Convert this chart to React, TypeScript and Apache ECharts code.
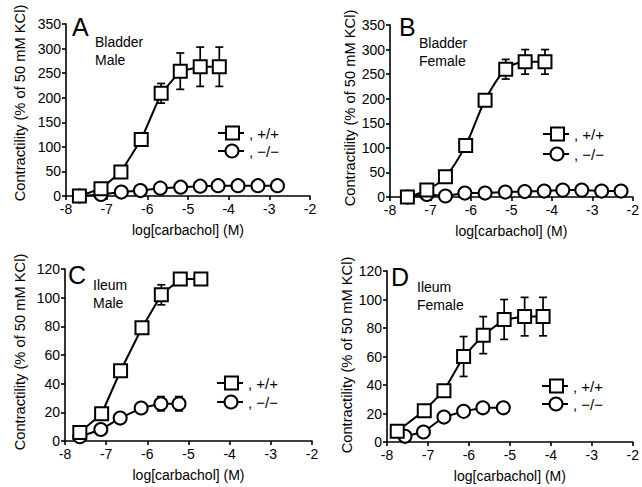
import React, { useEffect, useRef } from "react";
import * as echarts from "echarts";

// Panel A: Bladder Male
const aSqX = [-7.67, -7.14, -6.65, -6.15, -5.66, -5.19, -4.7, -4.23];
const aSqY = [0, 15, 49, 115, 209, 254, 263, 263];
const aSqE = [0, 0, 0, 5, 20, 37, 40, 40];
const aCiX = [-7.67, -7.14, -6.64, -6.17, -5.68, -5.18, -4.7, -4.26, -3.77, -3.28, -2.8];
const aCiY = [0, 3, 8, 11, 16, 18, 20, 21, 21, 21, 21];
const aCiE = [0, 0, 0, 0, 0, 0, 0, 0, 0, 0, 0];

// Panel B: Bladder Female
const bSqX = [-7.57, -7.09, -6.63, -6.13, -5.65, -5.14, -4.66, -4.17];
const bSqY = [0, 14, 41, 105, 197, 260, 275, 275];
const bSqE = [0, 0, 0, 0, 10, 20, 25, 25];
const bCiX = [-7.57, -7.09, -6.63, -6.15, -5.65, -5.15, -4.67, -4.19, -3.73, -3.26, -2.77, -2.29];
const bCiY = [0, 5, 2, 8, 8, 10, 11, 12, 14, 14, 12, 12];
const bCiE = [0, 0, 0, 0, 0, 0, 0, 0, 0, 0, 0, 0];

// Panel C: Ileum Male
const cSqX = [-7.64, -7.11, -6.65, -6.13, -5.66, -5.2, -4.7];
const cSqY = [6, 19, 49, 79, 102, 113, 113];
const cSqE = [0, 0, 0, 3, 7, 4, 4];
const cCiX = [-7.64, -7.13, -6.66, -6.15, -5.67, -5.23];
const cCiY = [3, 8, 16, 23, 26, 26];
const cCiE = [0, 0, 0, 3, 5, 5];

// Panel D: Ileum Female
const dSqX = [-7.75, -7.09, -6.61, -6.13, -5.65, -5.14, -4.64, -4.19];
const dSqY = [7.5, 22, 36, 60, 75, 86, 88, 88];
const dSqE = [0, 0, 3, 14, 13, 14, 13.5, 13.5];
const dCiX = [-7.56, -7.11, -6.61, -6.13, -5.66, -5.16];
const dCiY = [4, 7, 17.5, 21.5, 24, 24];
const dCiE = [0, 0, 0, 0, 3, 3];

const xTicks = { min: -8, max: -2, interval: 1 };
const yTicksBladder = { min: 0, max: 350, interval: 50 };
const yTicksIleum = { min: 0, max: 120, interval: 20 };

const letters = ["A", "B", "C", "D"];
const tissue = ["Bladder", "Bladder", "Ileum", "Ileum"];
const sex = ["Male", "Female", "Male", "Female"];
const legendLabels = [", +/+", ", \u2212/\u2212"];
const yName = "Contractility (% of 50 mM KCl)";
const xName = "log[carbachol] (M)";

const FONT = "Liberation Sans, Arial, Helvetica, sans-serif";

const grids = [
  { left: 66, top: 24, width: 244, height: 172 },
  { left: 390, top: 25, width: 247, height: 172 },
  { left: 65, top: 269, width: 247, height: 172 },
  { left: 387, top: 271, width: 248, height: 171 },
];

const panelText = [
  { lx: 72, ly: 14, tx: 95, ty: 42, legX: 218, legY: 133, legY2: 151, yx: 20, yc: 103 },
  { lx: 399, ly: 14, tx: 419, ty: 43, legX: 543, legY: 134, legY2: 154, yx: 350, yc: 108 },
  { lx: 68, ly: 262, tx: 93, ty: 285, legX: 217, legY: 383, legY2: 402, yx: 20, yc: 352 },
  { lx: 391, ly: 264, tx: 417, ty: 287, legX: 542, legY: 386, legY2: 404, yx: 347, yc: 355 },
];

function zip(xs: number[], ys: number[]) {
  return xs.map((x, i) => [x, ys[i]]);
}
function zip3(xs: number[], ys: number[], es: number[]) {
  return xs.map((x, i) => [x, ys[i], es[i]]);
}

export default function App() {
  const ref = useRef<HTMLDivElement>(null);
  useEffect(() => {
    if (!ref.current) return;
    const chart = echarts.init(ref.current, undefined, { renderer: "svg" });

    const panels = [
      { sq: [aSqX, aSqY, aSqE], ci: [aCiX, aCiY, aCiE], smooth: false },
      { sq: [bSqX, bSqY, bSqE], ci: [bCiX, bCiY, bCiE], smooth: true },
      { sq: [cSqX, cSqY, cSqE], ci: [cCiX, cCiY, cCiE], smooth: false },
      { sq: [dSqX, dSqY, dSqE], ci: [dCiX, dCiY, dCiE], smooth: false },
    ];

    const errRender = (params: any, api: any) => {
      const x = api.value(0);
      const y = api.value(1);
      const e = api.value(2);
      if (!e) return null;
      const top = api.coord([x, y + e]);
      const bot = api.coord([x, y - e]);
      const w = 4;
      const st = { stroke: "#000", lineWidth: 1.7 };
      return {
        type: "group",
        children: [
          { type: "line", shape: { x1: top[0], y1: top[1], x2: bot[0], y2: bot[1] }, style: st },
          { type: "line", shape: { x1: top[0] - w, y1: top[1], x2: top[0] + w, y2: top[1] }, style: st },
          { type: "line", shape: { x1: bot[0] - w, y1: bot[1], x2: bot[0] + w, y2: bot[1] }, style: st },
        ],
      };
    };

    const series: any[] = [];
    panels.forEach((p, i) => {
      series.push({
        type: "custom",
        xAxisIndex: i,
        yAxisIndex: i,
        renderItem: errRender,
        data: zip3(p.sq[0], p.sq[1], p.sq[2]),
        z: 1,
        silent: true,
      });
      series.push({
        type: "custom",
        xAxisIndex: i,
        yAxisIndex: i,
        renderItem: errRender,
        data: zip3(p.ci[0], p.ci[1], p.ci[2]),
        z: 1,
        silent: true,
      });
      series.push({
        type: "line",
        xAxisIndex: i,
        yAxisIndex: i,
        data: zip(p.ci[0], p.ci[1]),
        symbol: "circle",
        symbolSize: 13,
        smooth: false,
        lineStyle: { color: "#000", width: 2 },
        itemStyle: { color: "#fff", borderColor: "#000", borderWidth: 2 },
        z: 3,
      });
      series.push({
        type: "line",
        xAxisIndex: i,
        yAxisIndex: i,
        data: zip(p.sq[0], p.sq[1]),
        symbol: "rect",
        symbolSize: 13,
        smooth: p.smooth ? 0.3 : false,
        lineStyle: { color: "#000", width: 2 },
        itemStyle: { color: "#fff", borderColor: "#000", borderWidth: 2 },
        z: 4,
      });
    });

    const axisCommon = {
      axisLine: { show: true, onZero: false, lineStyle: { color: "#000", width: 1.6 } },
      axisTick: { show: true, inside: false, length: 4, lineStyle: { color: "#000", width: 1.6 } },
      splitLine: { show: false },
      axisLabel: { color: "#000", fontSize: 14, fontFamily: FONT },
      nameTextStyle: { color: "#000", fontSize: 14, fontFamily: FONT },
    };

    const xAxis = grids.map((_, i) => ({
      type: "value",
      gridIndex: i,
      ...xTicks,
      ...axisCommon,
      axisLabel: { ...axisCommon.axisLabel, margin: 6 },
      name: xName,
      nameLocation: "middle",
      nameGap: 27,
    }));
    const yAxis = grids.map((_, i) => ({
      type: "value",
      gridIndex: i,
      ...(i < 2 ? yTicksBladder : yTicksIleum),
      ...axisCommon,
      axisLabel: { ...axisCommon.axisLabel, margin: 5 },
    }));

    const graphic: any[] = [];
    panelText.forEach((t, i) => {
      graphic.push({
        type: "text",
        x: t.yx,
        y: t.yc,
        rotation: Math.PI / 2,
        scaleX: 1.05,
        style: {
          text: yName,
          fontSize: 14,
          fontFamily: FONT,
          fill: "#000",
          align: "center",
          verticalAlign: "middle",
        },
      });
      graphic.push({
        type: "text",
        x: t.lx,
        y: t.ly,
        style: { text: letters[i], fontSize: 25, fontFamily: FONT, fill: "#000" },
      });
      graphic.push({
        type: "text",
        x: t.tx,
        y: t.ty,
        style: { text: tissue[i], fontSize: 14, fontFamily: FONT, fill: "#000", verticalAlign: "middle" },
      });
      graphic.push({
        type: "text",
        x: t.tx,
        y: t.ty + 18,
        style: { text: sex[i], fontSize: 14, fontFamily: FONT, fill: "#000", verticalAlign: "middle" },
      });
      const rows = [t.legY, t.legY2];
      rows.forEach((yy, k) => {
        graphic.push({
          type: "line",
          shape: { x1: t.legX, y1: yy, x2: t.legX + 26, y2: yy },
          style: { stroke: "#000", lineWidth: 2 },
        });
        if (k === 0) {
          graphic.push({
            type: "rect",
            shape: { x: t.legX + 8, y: yy - 6.5, width: 13, height: 13 },
            style: { fill: "#fff", stroke: "#000", lineWidth: 2 },
          });
        } else {
          graphic.push({
            type: "circle",
            shape: { cx: t.legX + 14, cy: yy, r: 6.5 },
            style: { fill: "#fff", stroke: "#000", lineWidth: 2 },
          });
        }
        graphic.push({
          type: "text",
          x: t.legX + 31,
          y: yy,
          style: { text: legendLabels[k], fontSize: 15, fontFamily: FONT, fill: "#000", verticalAlign: "middle" },
        });
      });
    });

    chart.setOption({
      animation: false,
      backgroundColor: "#fff",
      grid: grids,
      xAxis,
      yAxis,
      series,
      graphic,
    });
    return () => chart.dispose();
  }, []);
  return (
    <div
      ref={ref}
      style={{ position: "fixed", left: 0, top: 0, width: 642, height: 487, background: "#fff" }}
    />
  );
}
